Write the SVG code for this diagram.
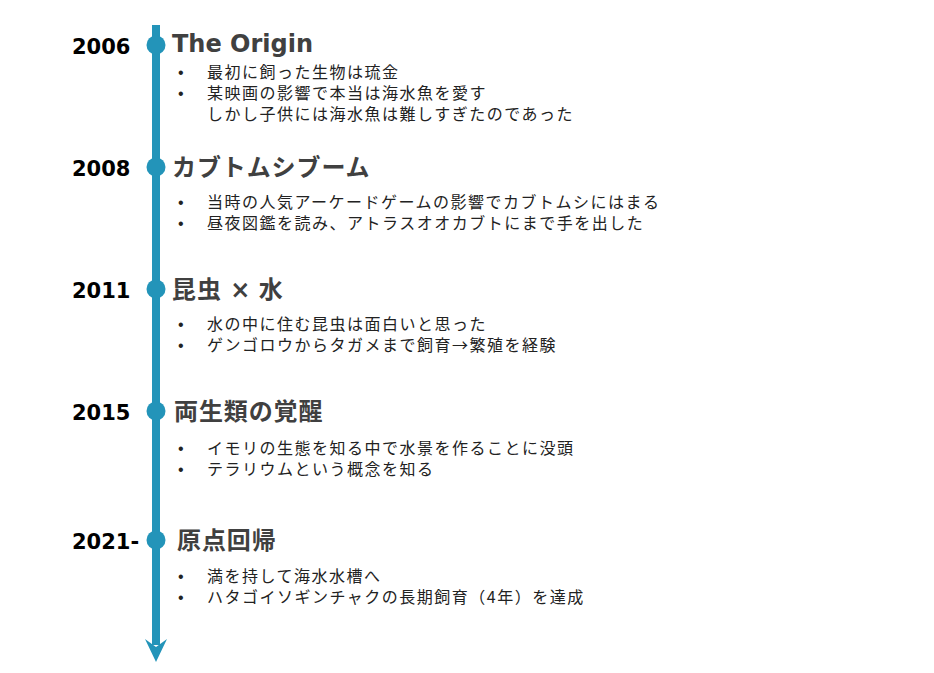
<svg xmlns="http://www.w3.org/2000/svg" width="934" height="673" viewBox="0 0 934 673">
<style>
.year{font-family:"DejaVu Sans","Liberation Sans",sans-serif;font-weight:bold;font-size:21px;fill:#000}
.title{font-family:"DejaVu Sans","Noto Sans CJK JP",sans-serif;font-weight:bold;font-size:24px;fill:#404040}
.tj{font-family:"Noto Sans CJK JP",sans-serif;letter-spacing:0.9px}
.body{font-family:"Noto Sans CJK JP",sans-serif;font-size:16px;letter-spacing:1.5px;fill:#222}
.bul{font-family:"Liberation Sans",sans-serif;font-size:16px;fill:#222}
.dot{fill:#2394b9}
</style>
<rect width="934" height="673" fill="#fff"/>
<g id="connectors">
<line x1="156" y1="25" x2="156" y2="645" stroke="#2394b9" stroke-width="8"/>
<path d="M145,639 L156,662 L167,639 L156,647 Z" fill="#2394b9"/>
</g>
<g id="node-2006">
<circle class="dot" cx="156" cy="45" r="9.5"/>
<text class="year" x="72" y="54">2006</text>
<text class="title" x="172" y="52">The Origin</text>
<text class="bul" x="178" y="78">•</text>
<text class="body" x="207" y="78">最初に飼った生物は琉金</text>
<text class="bul" x="178" y="99">•</text>
<text class="body" x="207" y="99">某映画の影響で本当は海水魚を愛す</text>
<text class="body" x="207" y="120">しかし子供には海水魚は難しすぎたのであった</text>
</g>
<g id="node-2008">
<circle class="dot" cx="156" cy="167" r="9.5"/>
<text class="year" x="72" y="176">2008</text>
<text class="title tj" x="172" y="176">カブトムシブーム</text>
<text class="bul" x="178" y="208">•</text>
<text class="body" x="207" y="208">当時の人気アーケードゲームの影響でカブトムシにはまる</text>
<text class="bul" x="178" y="229">•</text>
<text class="body" x="207" y="229">昼夜図鑑を読み、アトラスオオカブトにまで手を出した</text>
</g>
<g id="node-2011">
<circle class="dot" cx="156" cy="289" r="9.5"/>
<text class="year" x="72" y="298">2011</text>
<text class="title" x="172" y="298"><tspan class="tj">昆虫</tspan> × <tspan class="tj">水</tspan></text>
<text class="bul" x="178" y="330">•</text>
<text class="body" x="207" y="330">水の中に住む昆虫は面白いと思った</text>
<text class="bul" x="178" y="351">•</text>
<text class="body" x="207" y="351">ゲンゴロウからタガメまで飼育→繁殖を経験</text>
</g>
<g id="node-2015">
<circle class="dot" cx="156" cy="411" r="9.5"/>
<text class="year" x="72" y="420">2015</text>
<text class="title tj" x="174" y="420">両生類の覚醒</text>
<text class="bul" x="178" y="454">•</text>
<text class="body" x="207" y="454">イモリの生態を知る中で水景を作ることに没頭</text>
<text class="bul" x="178" y="475">•</text>
<text class="body" x="207" y="475">テラリウムという概念を知る</text>
</g>
<g id="node-2021">
<circle class="dot" cx="156" cy="540" r="9.5"/>
<text class="year" x="72" y="549">2021-</text>
<text class="title tj" x="177" y="549">原点回帰</text>
<text class="bul" x="178" y="582">•</text>
<text class="body" x="207" y="582">満を持して海水水槽へ</text>
<text class="bul" x="178" y="603">•</text>
<text class="body" x="207" y="603">ハタゴイソギンチャクの長期飼育（4年）を達成</text>
</g>
</svg>
